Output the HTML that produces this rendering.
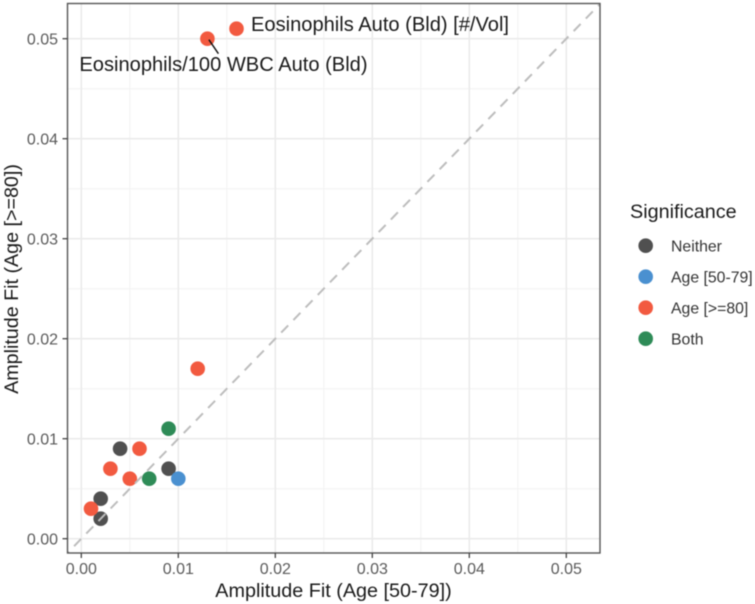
<!DOCTYPE html>
<html>
<head>
<meta charset="utf-8">
<style>
html,body{margin:0;padding:0;background:#fff;width:755px;height:604px;overflow:hidden}
svg{display:block;filter:blur(0.45px)}
text{font-family:"Liberation Sans",sans-serif}
</style>
</head>
<body>
<svg id="chart" width="755" height="604" viewBox="0 0 755 604" xmlns="http://www.w3.org/2000/svg">
  <defs><clipPath id="panel-clip"><rect x="67.5" y="3.5" width="532.5" height="549.5"/></clipPath></defs>
  <g id="grid"></g>
  <g id="points" clip-path="url(#panel-clip)"></g>
  <g id="ref" clip-path="url(#panel-clip)"></g>
  <g id="annotations"></g>
  <rect x="67.5" y="3.5" width="532.5" height="549.5" fill="none" stroke="#555" stroke-width="1.4"/>
  <g id="axes"></g>
  <text x="333.5" y="597" text-anchor="middle" font-size="19.8" fill="#1a1a1a">Amplitude Fit (Age [50-79])</text>
  <text transform="translate(18,279) rotate(-90)" text-anchor="middle" font-size="19.7" fill="#1a1a1a">Amplitude Fit (Age [&gt;=80])</text>
  <g id="legend">
    <text x="630" y="218" font-size="19.8" fill="#1a1a1a">Significance</text>
  </g>
</svg>
<script>
var tickValues = [0, 0.01, 0.02, 0.03, 0.04, 0.05];
var tickLabels = ["0.00", "0.01", "0.02", "0.03", "0.04", "0.05"];
var minorValues = [0.005, 0.015, 0.025, 0.035, 0.045];
var groupNames = ["Neither", "Age [50-79]", "Age [>=80]", "Both"];
var groupColors = ["#505050", "#4a90d0", "#f25a40", "#2e8b57"];
var neitherX = [0.004, 0.009, 0.002, 0.002];
var neitherY = [0.009, 0.007, 0.004, 0.002];
var youngX = [0.010];
var youngY = [0.006];
var oldX = [0.016, 0.013, 0.012, 0.006, 0.003, 0.005, 0.001];
var oldY = [0.051, 0.050, 0.017, 0.009, 0.007, 0.006, 0.003];
var bothX = [0.009, 0.007];
var bothY = [0.011, 0.006];
var seriesX = [neitherX, youngX, oldX, bothX];
var seriesY = [neitherY, youngY, oldY, bothY];
var labelledX = [0.016, 0.013];
var labelledY = [0.051, 0.050];
var labelText = ["Eosinophils Auto (Bld) [#/Vol]", "Eosinophils/100 WBC Auto (Bld)"];

var NS = "http://www.w3.org/2000/svg";
function sx(v) { return 81.3 + v * 9700; }
function sy(v) { return 538.7 - v * 10000; }
function make(parent, tag, attrs) {
  var el = document.createElementNS(NS, tag);
  for (var k in attrs) { el.setAttribute(k, attrs[k]); }
  document.getElementById(parent).appendChild(el);
  return el;
}
var L = 67.5, R = 600, T = 3.5, B = 553;

minorValues.forEach(function (v) {
  var a = make("grid", "line", {x1: sx(v), x2: sx(v), y1: T, y2: B, stroke: "#f2f2f2", "stroke-width": 1});
  
  
  var b = make("grid", "line", {x1: L, x2: R, y1: sy(v), y2: sy(v), stroke: "#f2f2f2", "stroke-width": 1});
  
  
});
tickValues.forEach(function (v, i) {
  var a = make("grid", "line", {x1: sx(v), x2: sx(v), y1: T, y2: B, stroke: "#ebebeb", "stroke-width": 1.6});
  
  
  var b = make("grid", "line", {x1: L, x2: R, y1: sy(v), y2: sy(v), stroke: "#ebebeb", "stroke-width": 1.6});
  
  

  var tx = make("axes", "line", {x1: sx(v), x2: sx(v), y1: B, y2: B + 5, stroke: "#444", "stroke-width": 1.3});
  
  
  var ty = make("axes", "line", {x1: L - 5, x2: L, y1: sy(v), y2: sy(v), stroke: "#444", "stroke-width": 1.3});
  
  

  var lx = make("axes", "text", {x: sx(v), y: 574, "text-anchor": "middle", "font-size": 16, fill: "#5a5a5a"});
  
  
  lx.textContent = tickLabels[i];
  var ly = make("axes", "text", {x: 58, y: sy(v) + 5.7, "text-anchor": "end", "font-size": 16, fill: "#5a5a5a"});
  
  
  ly.textContent = tickLabels[i];
});

seriesX.forEach(function (xs, g) {
  xs.forEach(function (x, i) {
    var c = make("points", "circle", {cx: sx(x), cy: sy(seriesY[g][i]), r: 7.3, fill: groupColors[g]});
    
    
  });
});

var refLine = make("ref", "line", {
  x1: sx(-0.002), y1: sy(-0.002), x2: sx(0.056), y2: sy(0.056),
  stroke: "#bdbdbd", "stroke-width": 2, "stroke-dasharray": "10 7.5"
});



var label0 = make("annotations", "text", {x: sx(labelledX[0]) + 14.5, y: sy(labelledY[0]) + 2.5, "font-size": 20.1, fill: "#1a1a1a"});


label0.textContent = labelText[0];
var label1 = make("annotations", "text", {x: sx(labelledX[1]) - 128, y: sy(labelledY[1]) + 32.2, "font-size": 20.1, fill: "#1a1a1a"});


label1.textContent = labelText[1];
var leader = make("annotations", "line", {
  x1: sx(labelledX[1]) + 1.5, y1: sy(labelledY[1]) + 1,
  x2: sx(labelledX[1]) + 11, y2: sy(labelledY[1]) + 15,
  stroke: "#111", "stroke-width": 1.4
});



groupNames.forEach(function (name, i) {
  var yy = 245.7 + i * 31;
  var m = make("legend", "circle", {cx: 645.7, cy: yy, r: 7.3, fill: groupColors[i]});
  
  
  var t = make("legend", "text", {x: 671, y: yy + 6, "font-size": 15.8, fill: "#333"});
  
  
  t.textContent = name;
});
</script>
</body>
</html>
